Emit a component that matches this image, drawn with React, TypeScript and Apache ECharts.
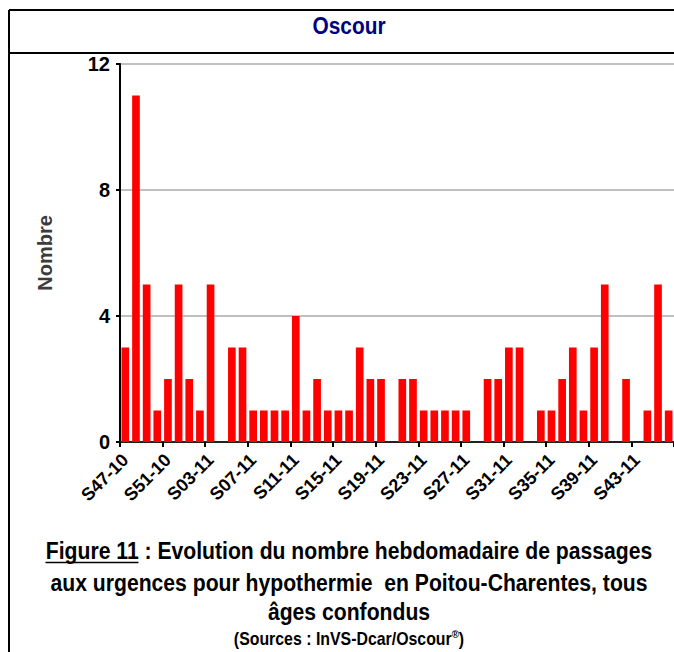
import React, { useEffect, useRef } from "react";
import * as echarts from "echarts";

const weeks = [
  "S47-10", "S48-10", "S49-10", "S50-10", "S51-10", "S52-10",
  "S01-11", "S02-11", "S03-11", "S04-11", "S05-11", "S06-11", "S07-11", "S08-11", "S09-11", "S10-11",
  "S11-11", "S12-11", "S13-11", "S14-11", "S15-11", "S16-11", "S17-11", "S18-11", "S19-11", "S20-11",
  "S21-11", "S22-11", "S23-11", "S24-11", "S25-11", "S26-11", "S27-11", "S28-11", "S29-11", "S30-11",
  "S31-11", "S32-11", "S33-11", "S34-11", "S35-11", "S36-11", "S37-11", "S38-11", "S39-11", "S40-11",
  "S41-11", "S42-11", "S43-11", "S44-11", "S45-11", "S46-11",
];

const passages = [
  3, 11, 5, 1, 2, 5, 2, 1, 5, 0, 3, 3, 1, 1, 1, 1, 4, 1, 2, 1, 1, 1, 3, 2, 2, 0,
  2, 2, 1, 1, 1, 1, 1, 0, 2, 2, 3, 3, 0, 1, 1, 2, 3, 1, 3, 5, 0, 2, 0, 1, 5, 1,
];

const yMin = 0;
const yMax = 12;
const yStep = 4;

const chartTitle = "Oscour";
const yName = "Nombre";
const captionFig = "Figure 11";
const captionLine1Rest = " : Evolution du nombre hebdomadaire de passages";
const captionLine2 = "aux urgences pour hypothermie  en Poitou-Charentes, tous";
const captionLine3 = "âges confondus";
const sourcesText = "(Sources : InVS-Dcar/Oscour";

const FONT = "'Liberation Sans', Arial, sans-serif";

export default function App() {
  const ref = useRef<HTMLDivElement>(null);

  useEffect(() => {
    document.body.style.margin = "0";
    const chart = echarts.init(ref.current!, null, { renderer: "svg" });

    const capSize = 24;
    const capFont = `bold ${capSize}px ${FONT}`;
    const srcFont = `bold 18px ${FONT}`;
    const ctx = document.createElement("canvas").getContext("2d")!;
    ctx.font = capFont;
    const wFig = ctx.measureText(captionFig).width;
    const wLine1 = ctx.measureText(captionFig + captionLine1Rest).width;
    const cx = 349;
    const line1Width = 607;
    const sx = line1Width / wLine1;
    const line1Start = cx - line1Width / 2;

    const titleFont = `bold 24px ${FONT}`;
    ctx.font = titleFont;
    const wTitle = ctx.measureText(chartTitle).width;
    const tsx = 73 / wTitle;

    const gridLeft = 120;
    const gridTop = 64;
    const gridBottom = 210;

    const capText = (text: string, y: number) => ({
      type: "text",
      x: cx,
      y,
      scaleX: sx,
      style: {
        text,
        font: capFont,
        fill: "#000",
        textAlign: "center",
        textVerticalAlign: "middle",
      },
    });

    chart.setOption({
      animation: false,
      grid: {
        left: gridLeft,
        top: gridTop,
        right: 0,
        bottom: gridBottom,
        containLabel: false,
      },
      xAxis: {
        type: "category",
        data: weeks,
        boundaryGap: true,
        axisLine: { show: true, lineStyle: { color: "#222", width: 2 } },
        axisTick: { show: true, interval: 3, length: 5, lineStyle: { color: "#000", width: 2 } },
        axisLabel: {
          interval: 3,
          rotate: 45,
          color: "#000",
          fontSize: 18,
          fontWeight: "bold",
          fontFamily: FONT,
          margin: 15,
        },
        splitLine: { show: false },
      },
      yAxis: {
        type: "value",
        min: yMin,
        max: yMax,
        interval: yStep,
        name: yName,
        nameLocation: "middle",
        nameGap: 65,
        nameTextStyle: {
          color: "#3c3c3c",
          fontSize: 20,
          fontWeight: "bold",
          fontFamily: FONT,
        },
        axisLine: { show: true, lineStyle: { color: "#000", width: 2 } },
        axisTick: { show: true, length: 4, lineStyle: { color: "#000", width: 2 } },
        axisLabel: {
          color: "#000",
          fontSize: 20,
          fontWeight: "bold",
          fontFamily: FONT,
          margin: 10,
        },
        splitLine: { show: true, lineStyle: { color: "#c0c0c0", width: 2 } },
      },
      series: [
        {
          type: "bar",
          data: passages,
          barCategoryGap: "28%",
          itemStyle: { color: "#ff0000" },
        },
      ],
      graphic: [
        // outer frame
        { type: "line", shape: { x1: 9, y1: 10, x2: 674, y2: 10 }, style: { stroke: "#000", lineWidth: 2 } },
        { type: "line", shape: { x1: 9, y1: 10, x2: 9, y2: 652 }, style: { stroke: "#000", lineWidth: 2 } },
        { type: "line", shape: { x1: 9, y1: 53, x2: 674, y2: 53 }, style: { stroke: "#000", lineWidth: 2 } },
        // plot top border
        { type: "line", shape: { x1: gridLeft, y1: gridTop, x2: 667, y2: gridTop }, style: { stroke: "#000", lineWidth: 2 } },
        // title
        {
          type: "text",
          x: cx,
          y: 26,
          scaleX: tsx,
          style: {
            text: chartTitle,
            font: titleFont,
            fill: "#000080",
            textAlign: "center",
            textVerticalAlign: "middle",
          },
        },
        // caption
        capText(captionFig + captionLine1Rest, 551),
        {
          type: "line",
          shape: { x1: line1Start, y1: 562.5, x2: line1Start + wFig * sx, y2: 562.5 },
          style: { stroke: "#000", lineWidth: 1.5 },
        },
        capText(captionLine2, 583.5),
        capText(captionLine3, 612),
        {
          type: "text",
          x: cx,
          y: 639,
          scaleX: sx,
          style: {
            text: `{a|${sourcesText}}{sup|®}{a|)}`,
            textAlign: "center",
            textVerticalAlign: "middle",
            rich: {
              a: { font: srcFont, fill: "#000", lineHeight: 20 },
              sup: { font: `bold 11px ${FONT}`, fill: "#000", lineHeight: 20, verticalAlign: "top", padding: [0, 0, 8, 0] },
            },
          },
        },
      ],
    });

    return () => chart.dispose();
  }, []);

  return <div ref={ref} style={{ width: 674, height: 652 }} />;
}
